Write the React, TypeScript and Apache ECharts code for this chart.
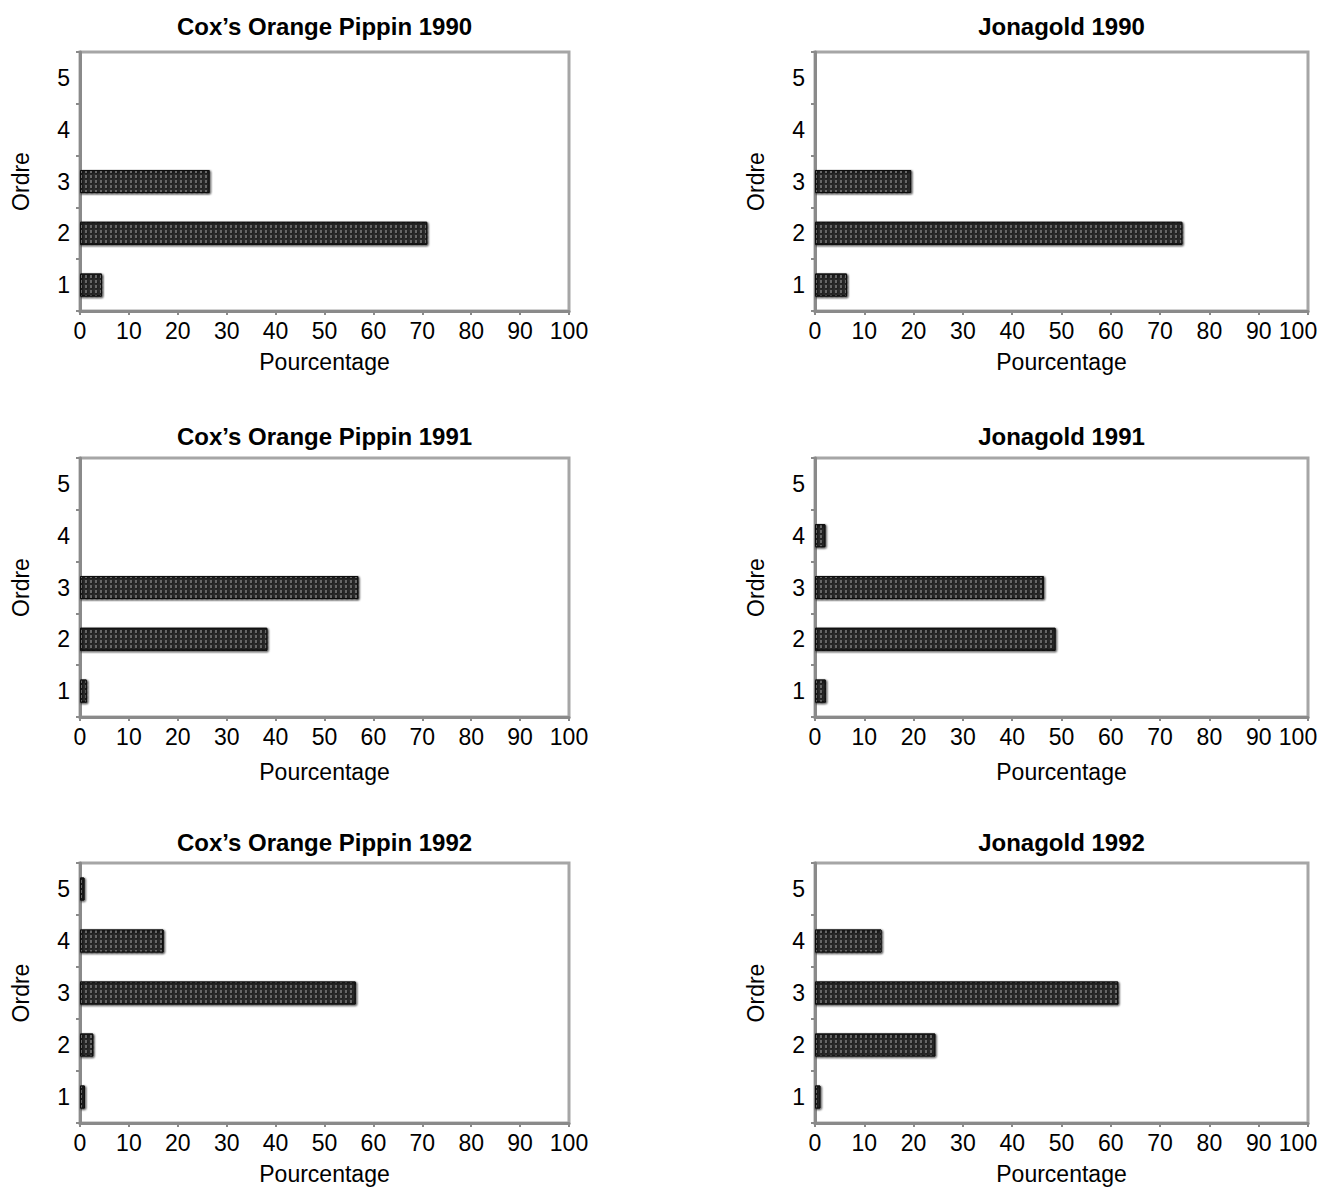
import React, { useEffect, useRef } from "react";
import * as echarts from "echarts";

const categories = ["1", "2", "3", "4", "5"];
const xTicks = [0, 100, 10]; // min, max, interval

const panelTitles = [
  "Cox\u2019s Orange Pippin 1990",
  "Jonagold 1990",
  "Cox\u2019s Orange Pippin 1991",
  "Jonagold 1991",
  "Cox\u2019s Orange Pippin 1992",
  "Jonagold 1992",
];

// values per Ordre 1..5 (percent)
const cox1990 = [4.5, 71, 26.5, 0, 0];
const jona1990 = [6.5, 74.5, 19.5, 0, 0];
const cox1991 = [1.4, 38.3, 56.9, 0, 0];
const jona1991 = [2.2, 48.8, 46.4, 2.1, 0];
const cox1992 = [1, 2.7, 56.4, 17.1, 0.9];
const jona1992 = [1.1, 24.4, 61.5, 13.5, 0];

const panelValues = [cox1990, jona1990, cox1991, jona1991, cox1992, jona1992];

const xName = "Pourcentage";
const yName = "Ordre";

const FONT = "'Liberation Sans', Arial, Helvetica, sans-serif";

export default function App() {
  const ref = useRef<HTMLDivElement>(null);

  useEffect(() => {
    if (!ref.current) return;
    const chart = echarts.init(ref.current, undefined, { renderer: "svg" });

    const colLeft = [80, 815];
    const colWidth = [489, 493];
    const rowTop = [52, 458, 863];
    const rowHeight = [259, 259, 260];
    const titleTop = [14, 424, 830];
    const nameGaps = [39, 43, 39];

    const grids: any[] = [];
    const xAxes: any[] = [];
    const yAxes: any[] = [];
    const series: any[] = [];
    const titles: any[] = [];

    panelValues.forEach((vals, i) => {
      const r = Math.floor(i / 2);
      const c = i % 2;
      grids.push({
        left: colLeft[c],
        top: rowTop[r],
        width: colWidth[c],
        height: rowHeight[r],
        show: true,
        backgroundColor: "#ffffff",
        borderColor: "#a6a6a6",
        borderWidth: 3,
        containLabel: false,
        outerBoundsMode: "none",
      });
      titles.push({
        text: panelTitles[i],
        left: colLeft[c] + colWidth[c] / 2,
        top: titleTop[r],
        textAlign: "center",
        padding: 0,
        textStyle: {
          fontFamily: FONT,
          fontSize: 24,
          fontWeight: "bold",
          color: "#000",
        },
      });
      xAxes.push({
        type: "value",
        gridIndex: i,
        min: xTicks[0],
        max: xTicks[1],
        interval: xTicks[2],
        name: xName,
        nameLocation: "middle",
        nameGap: nameGaps[r],
        nameTextStyle: { fontFamily: FONT, fontSize: 23, color: "#000" },
        axisLine: { show: true, lineStyle: { color: "#8a8a8a", width: 3 } },
        axisTick: { show: true, length: 4, lineStyle: { color: "#8a8a8a", width: 2 } },
        axisLabel: {
          fontFamily: FONT,
          fontSize: 23,
          color: "#000",
          margin: 8,
          formatter: (v: number) =>
            c === 1 && v === xTicks[1] ? "{m|" + v + "}" : String(v),
          rich: {
            m: {
              fontFamily: FONT,
              fontSize: 23,
              color: "#000",
              padding: [0, 20, 0, 0],
            },
          },
        },
        splitLine: { show: false },
      });
      yAxes.push({
        type: "category",
        gridIndex: i,
        data: categories,
        boundaryGap: true,
        name: yName,
        nameLocation: "middle",
        nameGap: 48,
        nameRotate: 90,
        nameTextStyle: { fontFamily: FONT, fontSize: 23, color: "#000" },
        axisLine: { show: true, lineStyle: { color: "#8a8a8a", width: 3 } },
        axisTick: { show: true, length: 4, lineStyle: { color: "#8a8a8a", width: 2 } },
        axisLabel: { fontFamily: FONT, fontSize: 23, color: "#000", margin: 10 },
        splitLine: { show: false },
      });
      series.push({
        type: "bar",
        xAxisIndex: i,
        yAxisIndex: i,
        data: vals,
        barWidth: 23,
        itemStyle: {
          color: "#2e2e2e",
          borderColor: "#111111",
          borderWidth: 1,
          shadowColor: "rgba(0,0,0,0.35)",
          shadowBlur: 2,
          shadowOffsetX: 1,
          shadowOffsetY: 1,
          decal: {
            symbol: "rect",
            symbolSize: 1,
            color: "rgba(120,120,120,0.75)",
            dashArrayX: [2, 3],
            dashArrayY: [3, 2],
            rotation: 0,
          },
        },
        emphasis: { disabled: true },
      });
    });

    chart.setOption({
      animation: false,
      backgroundColor: "#ffffff",
      textStyle: { fontFamily: FONT },
      title: titles,
      grid: grids,
      xAxis: xAxes,
      yAxis: yAxes,
      series,
    });

    return () => chart.dispose();
  }, []);

  return (
    <div
      ref={ref}
      style={{ position: "absolute", left: 0, top: 0, width: 1319, height: 1187 }}
    />
  );
}
